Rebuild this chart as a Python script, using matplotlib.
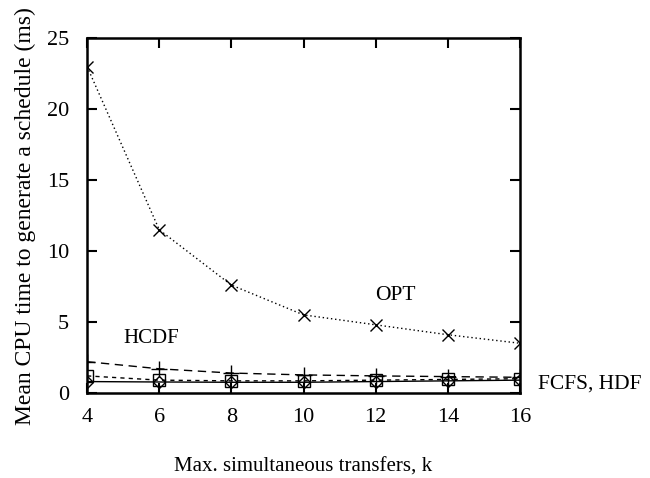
import matplotlib
matplotlib.use('Agg')
import matplotlib.pyplot as plt

plt.rcParams['font.family'] = ['Liberation Serif', 'DejaVu Serif']

# data
k = [4, 6, 8, 10, 12, 14, 16]
opt = [23.0, 11.5, 7.6, 5.5, 4.8, 4.1, 3.5]
hcdf = [2.2, 1.7, 1.4, 1.27, 1.2, 1.15, 1.1]
fcfs = [1.2, 0.9, 0.85, 0.85, 0.9, 0.95, 1.0]
hdf = [0.8, 0.77, 0.75, 0.75, 0.8, 0.85, 0.9]

fig = plt.figure(figsize=(6.5, 4.78), dpi=100)
ax = fig.add_axes([0.134, 0.178, 0.666, 0.742])

ax.plot(k, opt, color='black', linestyle=(0, (1, 2)), linewidth=1,
        marker='x', markersize=9, markeredgewidth=1)
ax.plot(k, hcdf, color='black', linestyle=(0, (6, 4)), linewidth=1,
        marker='+', markersize=11, markeredgewidth=1)
ax.plot(k, fcfs, color='black', linestyle=(0, (3, 3)), linewidth=1,
        marker='s', markersize=8, markerfacecolor='none', markeredgewidth=1)
ax.plot(k, hdf, color='black', linestyle='-', linewidth=1,
        marker='D', markersize=6, markerfacecolor='none', markeredgewidth=1)

ax.text(12.54, 6.55, 'OPT', fontsize=15.5, ha='center', va='baseline')
ax.text(5.77, 3.5, 'HCDF', fontsize=15, ha='center', va='baseline')
ax.text(16.5, 0.3, 'FCFS, HDF', fontsize=15.5, ha='left', va='baseline',
        clip_on=False)

ax.set_xlim(4, 16)
ax.set_ylim(0, 25)
ax.set_xticks(k)
ax.set_yticks([0, 5, 10, 15, 20, 25])
ax.tick_params(direction='in', length=7, width=1.5, top=True, right=True,
               labelsize=16)
ax.tick_params(axis='x', pad=11)
ax.tick_params(axis='y', pad=13)
for s in ax.spines.values():
    s.set_linewidth(1.8)

ax.set_xlabel('Max. simultaneous transfers, k', fontsize=15, labelpad=22)
ax.set_ylabel('Mean CPU time to generate a schedule (ms)', fontsize=17,
              labelpad=8)

fig.savefig('out.png', dpi=100)
